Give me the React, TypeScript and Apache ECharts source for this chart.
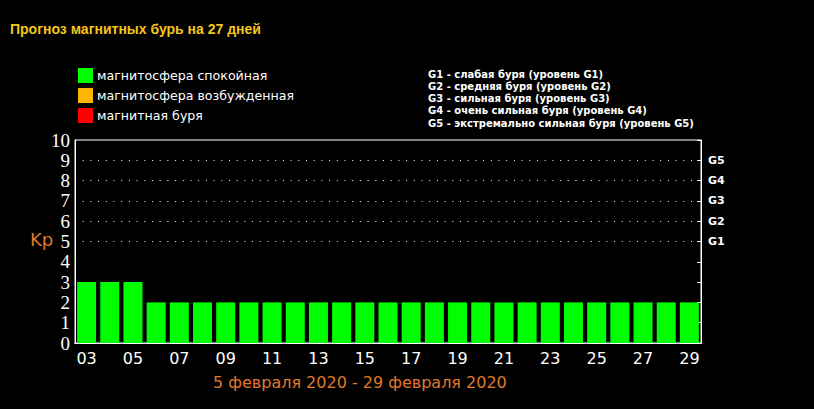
import React, { useEffect, useRef } from "react";
import * as echarts from "echarts";

const days = ["03","04","05","06","07","08","09","10","11","12","13","14","15","16","17","18","19","20","21","22","23","24","25","26","27","28","29"];
const kp = [3,3,3,2,2,2,2,2,2,2,2,2,2,2,2,2,2,2,2,2,2,2,2,2,2,2,2];
const stateNames = ["магнитосфера спокойная", "магнитосфера возбужденная", "магнитная буря"];
const stateColors = ["#00ff00", "#ffb400", "#ff0000"];
const gLevels = [5, 6, 7, 8, 9];
const gLabels = ["G1", "G2", "G3", "G4", "G5"];
const gDescriptions = [
  "G1 - слабая буря (уровень G1)",
  "G2 - средняя буря (уровень G2)",
  "G3 - сильная буря (уровень G3)",
  "G4 - очень сильная буря (уровень G4)",
  "G5 - экстремально сильная буря (уровень G5)",
];
const titleText = "Прогноз магнитных бурь на 27 дней";
const dateRange = "5 февраля 2020 - 29 февраля 2020";

export default function App() {
  const ref = useRef<HTMLDivElement>(null);
  useEffect(() => {
    document.body.style.margin = "0";
    document.body.style.background = "#000";
    const chart = echarts.init(ref.current!, null, { renderer: "svg" });
    const stateOf = (v: number) => (v >= 5 ? 2 : v >= 4 ? 1 : 0);
    const series: any[] = stateNames.map((name, si) => ({
      name,
      type: "bar",
      stack: "kp",
      barCategoryGap: "18%",
      itemStyle: { color: stateColors[si] },
      data: kp.map((v) => (stateOf(v) === si ? v : 0)),
      markLine:
        si === 0
          ? {
              silent: true,
              symbol: "none",
              label: { show: false },
              lineStyle: { color: "#ffffff", type: [1, 6.7], width: 1 },
              data: gLevels.map((y) => ({ yAxis: y })),
            }
          : undefined,
    }));
    chart.setOption({
      animation: false,
      backgroundColor: "#000",
      title: {
        text: titleText,
        left: 10,
        top: 22,
        padding: 0,
        textStyle: { color: "#f5c518", fontFamily: "Liberation Sans", fontWeight: "bold", fontSize: 14 },
      },
      legend: {
        orient: "vertical",
        left: 78,
        top: 68,
        padding: 0,
        itemWidth: 15,
        itemHeight: 15,
        itemGap: 5,
        icon: "rect",
        data: stateNames,
        textStyle: { color: "#ffffff", fontFamily: "DejaVu Sans", fontSize: 12.6, padding: [0, 0, 0, -1] },
      },
      graphic: [
        ...gDescriptions.map((t, i) => ({
          type: "text",
          left: 428,
          top: 69 + i * 12.3,
          style: { text: t, fill: "#ffffff", font: "bold 10px 'DejaVu Sans'" },
        })),
        {
          type: "text",
          left: 30,
          top: 230,
          style: { text: "Kp", fill: "#e0782a", font: "18px 'DejaVu Sans'" },
        },
        {
          type: "text",
          left: 213,
          top: 374,
          style: { text: dateRange, fill: "#e0782a", font: "16px 'DejaVu Sans'" },
        },
      ],
      grid: { left: 75, right: 113, top: 140, bottom: 66, show: true, borderColor: "#ffffff", borderWidth: 1 },
      xAxis: [
        {
          type: "category",
          data: days,
          position: "bottom",
          axisLine: { lineStyle: { color: "#ffffff" } },
          axisTick: { inside: true, length: 4, lineStyle: { color: "#ffffff" } },
          axisLabel: { interval: 1, color: "#ffffff", fontFamily: "DejaVu Sans", fontSize: 16, margin: 7 },
        },
        {
          type: "category",
          data: days,
          position: "top",
          axisLine: { lineStyle: { color: "#ffffff" } },
          axisTick: { inside: true, length: 4, lineStyle: { color: "#ffffff" } },
          axisLabel: { show: false },
        },
      ],
      yAxis: [
        {
          type: "value",
          min: 0,
          max: 10,
          interval: 1,
          position: "left",
          axisLine: { show: true, lineStyle: { color: "#ffffff" } },
          axisTick: { show: false },
          splitLine: { show: false },
          axisLabel: { color: "#ffffff", fontFamily: "Liberation Serif", fontSize: 19, margin: 5 },
        },
        {
          type: "value",
          min: 0,
          max: 10,
          interval: 1,
          position: "right",
          axisLine: { show: true, lineStyle: { color: "#ffffff" } },
          axisTick: { show: true, inside: true, length: 4, lineStyle: { color: "#ffffff" } },
          splitLine: { show: false },
          axisLabel: {
            color: "#ffffff",
            fontFamily: "DejaVu Sans",
            fontWeight: "bold",
            fontSize: 11,
            margin: 7,
            formatter: (v: number) => {
              const i = gLevels.indexOf(v);
              return i >= 0 ? gLabels[i] : "";
            },
          },
        },
      ],
      series,
    });
    return () => chart.dispose();
  }, []);
  return <div ref={ref} style={{ width: 814, height: 409, background: "#000" }} />;
}
